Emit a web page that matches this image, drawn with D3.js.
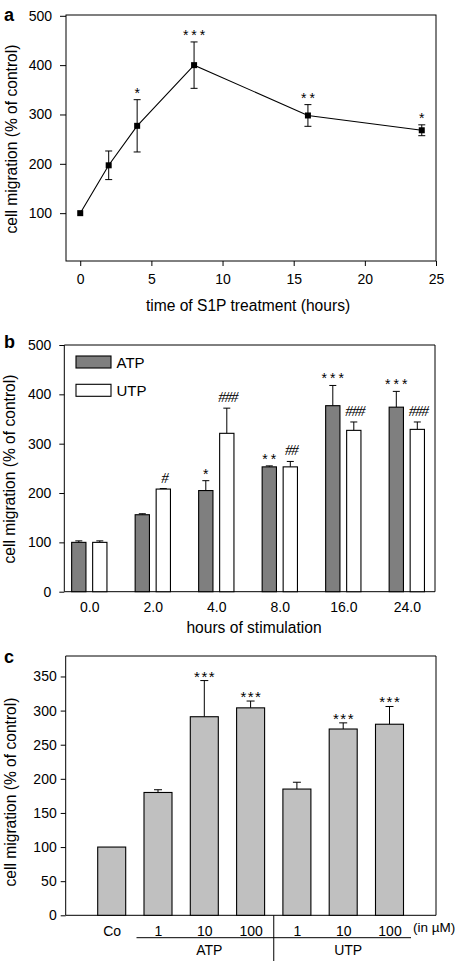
<!DOCTYPE html>
<html><head><meta charset="utf-8">
<script src="https://cdn.jsdelivr.net/npm/d3@7"></script>
<style>
body{margin:0;background:#fff;}
svg{display:block;font-family:"Liberation Sans",Arial,sans-serif;}
</style></head>
<body><svg id="c" width="458" height="962"></svg>
<script>
// ---------- Panel a data ----------
const aHours = [0, 2, 4, 8, 16, 24];
const aMean  = [100, 197, 277, 400, 298, 268];
const aErr   = [0, 29, 53, 47, 22, 11];
const aSig   = ["", "", "*", "***", "**", "*"];
const aXTicks = [0, 5, 10, 15, 20, 25];
const aYTicks = [100, 200, 300, 400, 500];

// ---------- Panel b data ----------
const bCats    = ["0.0", "2.0", "4.0", "8.0", "16.0", "24.0"];
const bSeries  = ["ATP", "UTP"];
const atpMean  = [100, 156, 205, 253, 377, 374];
const atpErr   = [3, 2, 20, 2, 41, 32];
const utpMean  = [100, 208, 321, 253, 327, 329];
const utpErr   = [3, 1, 51, 11, 17, 15];
const atpSig   = ["", "", "*", "**", "***", "***"];
const utpSig   = ["", "#", "###", "##", "###", "###"];
const bYTicks  = [0, 100, 200, 300, 400, 500];

// ---------- Panel c data ----------
const cCats  = ["Co", "1", "10", "100", "1", "10", "100"];
const cMean  = [100, 180, 291, 304, 185, 273, 280];
const cErr   = [0, 4, 53, 10, 10, 9, 26];
const cSig   = ["", "", "***", "***", "", "***", "***"];
const cGroups = ["ATP", "UTP"];
const cYTicks = [0, 50, 100, 150, 200, 250, 300, 350];

const svg = d3.select("#c");
const TICK_FS = 14, TITLE_FS = 15.6;

function yTitle(x, yc, txt){
  svg.append("text").attr("transform",`translate(${x},${yc}) rotate(-90)`)
    .attr("text-anchor","middle").attr("font-size",TITLE_FS).text(txt);
}
function panelLabel(x, y, t){
  svg.append("text").attr("x",x).attr("y",y).attr("font-weight","bold")
    .attr("font-size",18).text(t);
}
function styleAxis(g){
  g.select(".domain").remove();
  g.selectAll(".tick line").attr("stroke","#000");
  g.selectAll(".tick text").attr("font-size",TICK_FS).attr("font-family","Liberation Sans, Arial, sans-serif").attr("fill","#000");
}

// ================= Panel a =================
{
  const L=66, R=436, T=15, B=261;
  const x = d3.scaleLinear().domain([-1,25]).range([L,R]);
  const y = d3.scaleLinear().domain([0,500]).range([262.5,15.8]);
  const g = svg.append("g");
  g.append("rect").attr("x",L).attr("y",T).attr("width",R-L).attr("height",B-T)
    .attr("fill","none").attr("stroke","#000").attr("stroke-width",1);
  const ya = g.append("g").attr("transform",`translate(${L},0)`)
    .call(d3.axisLeft(y).tickValues(aYTicks).tickSize(6).tickPadding(8));
  styleAxis(ya);
  const xa = g.append("g").attr("transform",`translate(0,${B})`)
    .call(d3.axisBottom(x).tickValues(aXTicks).tickSize(5).tickPadding(8));
  styleAxis(xa);
  const pts = aHours.map((h,i)=>({h,m:aMean[i],e:aErr[i],s:aSig[i]}));
  g.append("path").datum(pts).attr("fill","none").attr("stroke","#000").attr("stroke-width",1.1)
    .attr("d", d3.line().x(d=>x(d.h)).y(d=>y(d.m)));
  pts.filter(d=>d.e>0).forEach(d=>{
    const cx=x(d.h);
    g.append("line").attr("x1",cx).attr("x2",cx).attr("y1",y(d.m-d.e)).attr("y2",y(d.m+d.e)).attr("stroke","#000");
    [d.m-d.e,d.m+d.e].forEach(v=>g.append("line").attr("x1",cx-3.5).attr("x2",cx+3.5).attr("y1",y(v)).attr("y2",y(v)).attr("stroke","#000"));
  });
  g.selectAll("rect.pt").data(pts).enter().append("rect")
    .attr("x",d=>x(d.h)-3).attr("y",d=>y(d.m)-3).attr("width",6).attr("height",6).attr("fill","#000");
  g.selectAll("text.sig").data(pts.filter(d=>d.s)).enter().append("text")
    .attr("x",d=>x(d.h)+1.5).attr("y",d=>y(d.m+d.e)-2).attr("text-anchor","middle")
    .attr("font-size",14).attr("letter-spacing",3).text(d=>d.s);
  svg.append("text").attr("x",248).attr("y",311).attr("text-anchor","middle")
    .attr("font-size",TITLE_FS).text("time of S1P treatment (hours)");
  yTitle(17, 139, "cell migration (% of control)");
  panelLabel(4, 21, "a");
}

// ================= Panel b =================
{
  const L=64.3, R=435, T=345, B=591.7;
  const x = d3.scalePoint().domain(bCats).range([89.3,406.8]);
  const y = d3.scaleLinear().domain([0,500]).range([B,T]);
  const off = d3.scaleOrdinal().domain(bSeries).range([-10.5,10.5]);
  const fill = d3.scaleOrdinal().domain(bSeries).range(["#7f7f7f","#ffffff"]);
  const bw = 14.3;
  const g = svg.append("g");
  g.append("path").attr("d",`M${L},${T}H${R}V${B}`).attr("fill","none").attr("stroke","#000");
  g.append("line").attr("x1",L).attr("x2",R).attr("y1",B).attr("y2",B).attr("stroke","#000");
  g.append("line").attr("x1",L).attr("x2",L).attr("y1",T).attr("y2",B).attr("stroke","#000");
  const ya = g.append("g").attr("transform",`translate(${L},0)`)
    .call(d3.axisLeft(y).tickValues(bYTicks).tickSize(5).tickPadding(8));
  styleAxis(ya);
  const xa = g.append("g").attr("transform",`translate(0,${B})`)
    .call(d3.axisBottom(x).tickSize(0).tickPadding(10));
  styleAxis(xa);
  const data = [];
  bCats.forEach((c,i)=>{
    data.push({c,s:"ATP",m:atpMean[i],e:atpErr[i],sig:atpSig[i]});
    data.push({c,s:"UTP",m:utpMean[i],e:utpErr[i],sig:utpSig[i]});
  });
  data.forEach(d=>{
    const cx = x(d.c)+off(d.s);
    g.append("line").attr("x1",cx).attr("x2",cx).attr("y1",y(d.m)).attr("y2",y(d.m+d.e)).attr("stroke","#000");
    g.append("line").attr("x1",cx-3.5).attr("x2",cx+3.5).attr("y1",y(d.m+d.e)).attr("y2",y(d.m+d.e)).attr("stroke","#000");
    g.append("rect").attr("x",cx-bw/2).attr("y",y(d.m)).attr("width",bw).attr("height",y(0)-y(d.m))
      .attr("fill",fill(d.s)).attr("stroke","#000").attr("stroke-width",1.1);
    if(d.sig){
      const isHash = d.sig[0]==="#";
      g.append("text").attr("x",cx+(isHash?1:1.5)).attr("y",y(d.m+d.e)-(isHash?6:2))
        .attr("text-anchor","middle")
        .attr("font-size",isHash?15:14)
        .attr("font-family",isHash?"Liberation Serif, serif":null)
        .attr("font-style",isHash?"italic":null)
        .attr("letter-spacing",isHash?-1.2:3)
        .text(d.sig);
    }
  });
  // legend
  bSeries.forEach((s,i)=>{
    const yy = 356 + i*28.3;
    g.append("rect").attr("x",76).attr("y",yy).attr("width",35).attr("height",12)
      .attr("fill",fill(s)).attr("stroke","#000").attr("stroke-width",1.1);
    g.append("text").attr("x",116.5).attr("y",yy+11.5).attr("font-size",15).text(s);
  });
  svg.append("text").attr("x",254).attr("y",633).attr("text-anchor","middle")
    .attr("font-size",TITLE_FS).text("hours of stimulation");
  yTitle(15, 469, "cell migration (% of control)");
  panelLabel(4, 348, "b");
}

// ================= Panel c =================
{
  const L=65.7, R=436, T=656, B=915.3;
  const idx = cCats.map((c,i)=>i);
  const x = d3.scalePoint().domain(idx).range([111.7,389.5]);
  const y = d3.scaleLinear().domain([0,380]).range([B,T]);
  const bw = 28;
  const g = svg.append("g");
  g.append("path").attr("d",`M${L},${B}V${T}H${R}V${B}`).attr("fill","none").attr("stroke","#000");
  g.append("line").attr("x1",L).attr("x2",R).attr("y1",B).attr("y2",B).attr("stroke","#000");
  const ya = g.append("g").attr("transform",`translate(${L},0)`)
    .call(d3.axisLeft(y).tickValues(cYTicks).tickSize(5).tickPadding(4));
  styleAxis(ya);
  const xa = g.append("g").attr("transform",`translate(0,${B})`)
    .call(d3.axisBottom(x).tickSize(0).tickPadding(11).tickFormat(i=>cCats[i]));
  styleAxis(xa);
  idx.forEach(i=>{
    const cx = x(i), m=cMean[i], e=cErr[i];
    if(e>0){
      g.append("line").attr("x1",cx).attr("x2",cx).attr("y1",y(m)).attr("y2",y(m+e)).attr("stroke","#000");
      g.append("line").attr("x1",cx-4).attr("x2",cx+4).attr("y1",y(m+e)).attr("y2",y(m+e)).attr("stroke","#000");
    }
    g.append("rect").attr("x",cx-bw/2).attr("y",y(m)).attr("width",bw).attr("height",y(0)-y(m))
      .attr("fill","#c0c0c0").attr("stroke","#000").attr("stroke-width",1.1);
    if(cSig[i]){
      g.append("text").attr("x",cx+0.8).attr("y",y(m+e)+1).attr("text-anchor","middle")
        .attr("font-size",15).attr("letter-spacing",1.5).text(cSig[i]);
    }
  });
  svg.append("text").attr("x",413).attr("y",932).attr("font-size",13.5).text("(in µM)");
  // group brackets
  const lineY = 937.7, divX = (x(3)+x(4))/2;
  g.append("line").attr("x1",x(1)-21.5).attr("x2",x(6)+21.5).attr("y1",lineY).attr("y2",lineY).attr("stroke","#000");
  g.append("line").attr("x1",divX).attr("x2",divX).attr("y1",B).attr("y2",961).attr("stroke","#000");
  const gc = [(x(1)+x(3))/2, (x(4)+x(6))/2];
  cGroups.forEach((gname,k)=>{
    svg.append("text").attr("x",gc[k]+5).attr("y",955).attr("text-anchor","middle")
      .attr("font-size",TICK_FS).text(gname);
  });
  yTitle(16, 792, "cell migration (% of control)");
  panelLabel(4, 663, "c");
}
</script>
</body></html>
